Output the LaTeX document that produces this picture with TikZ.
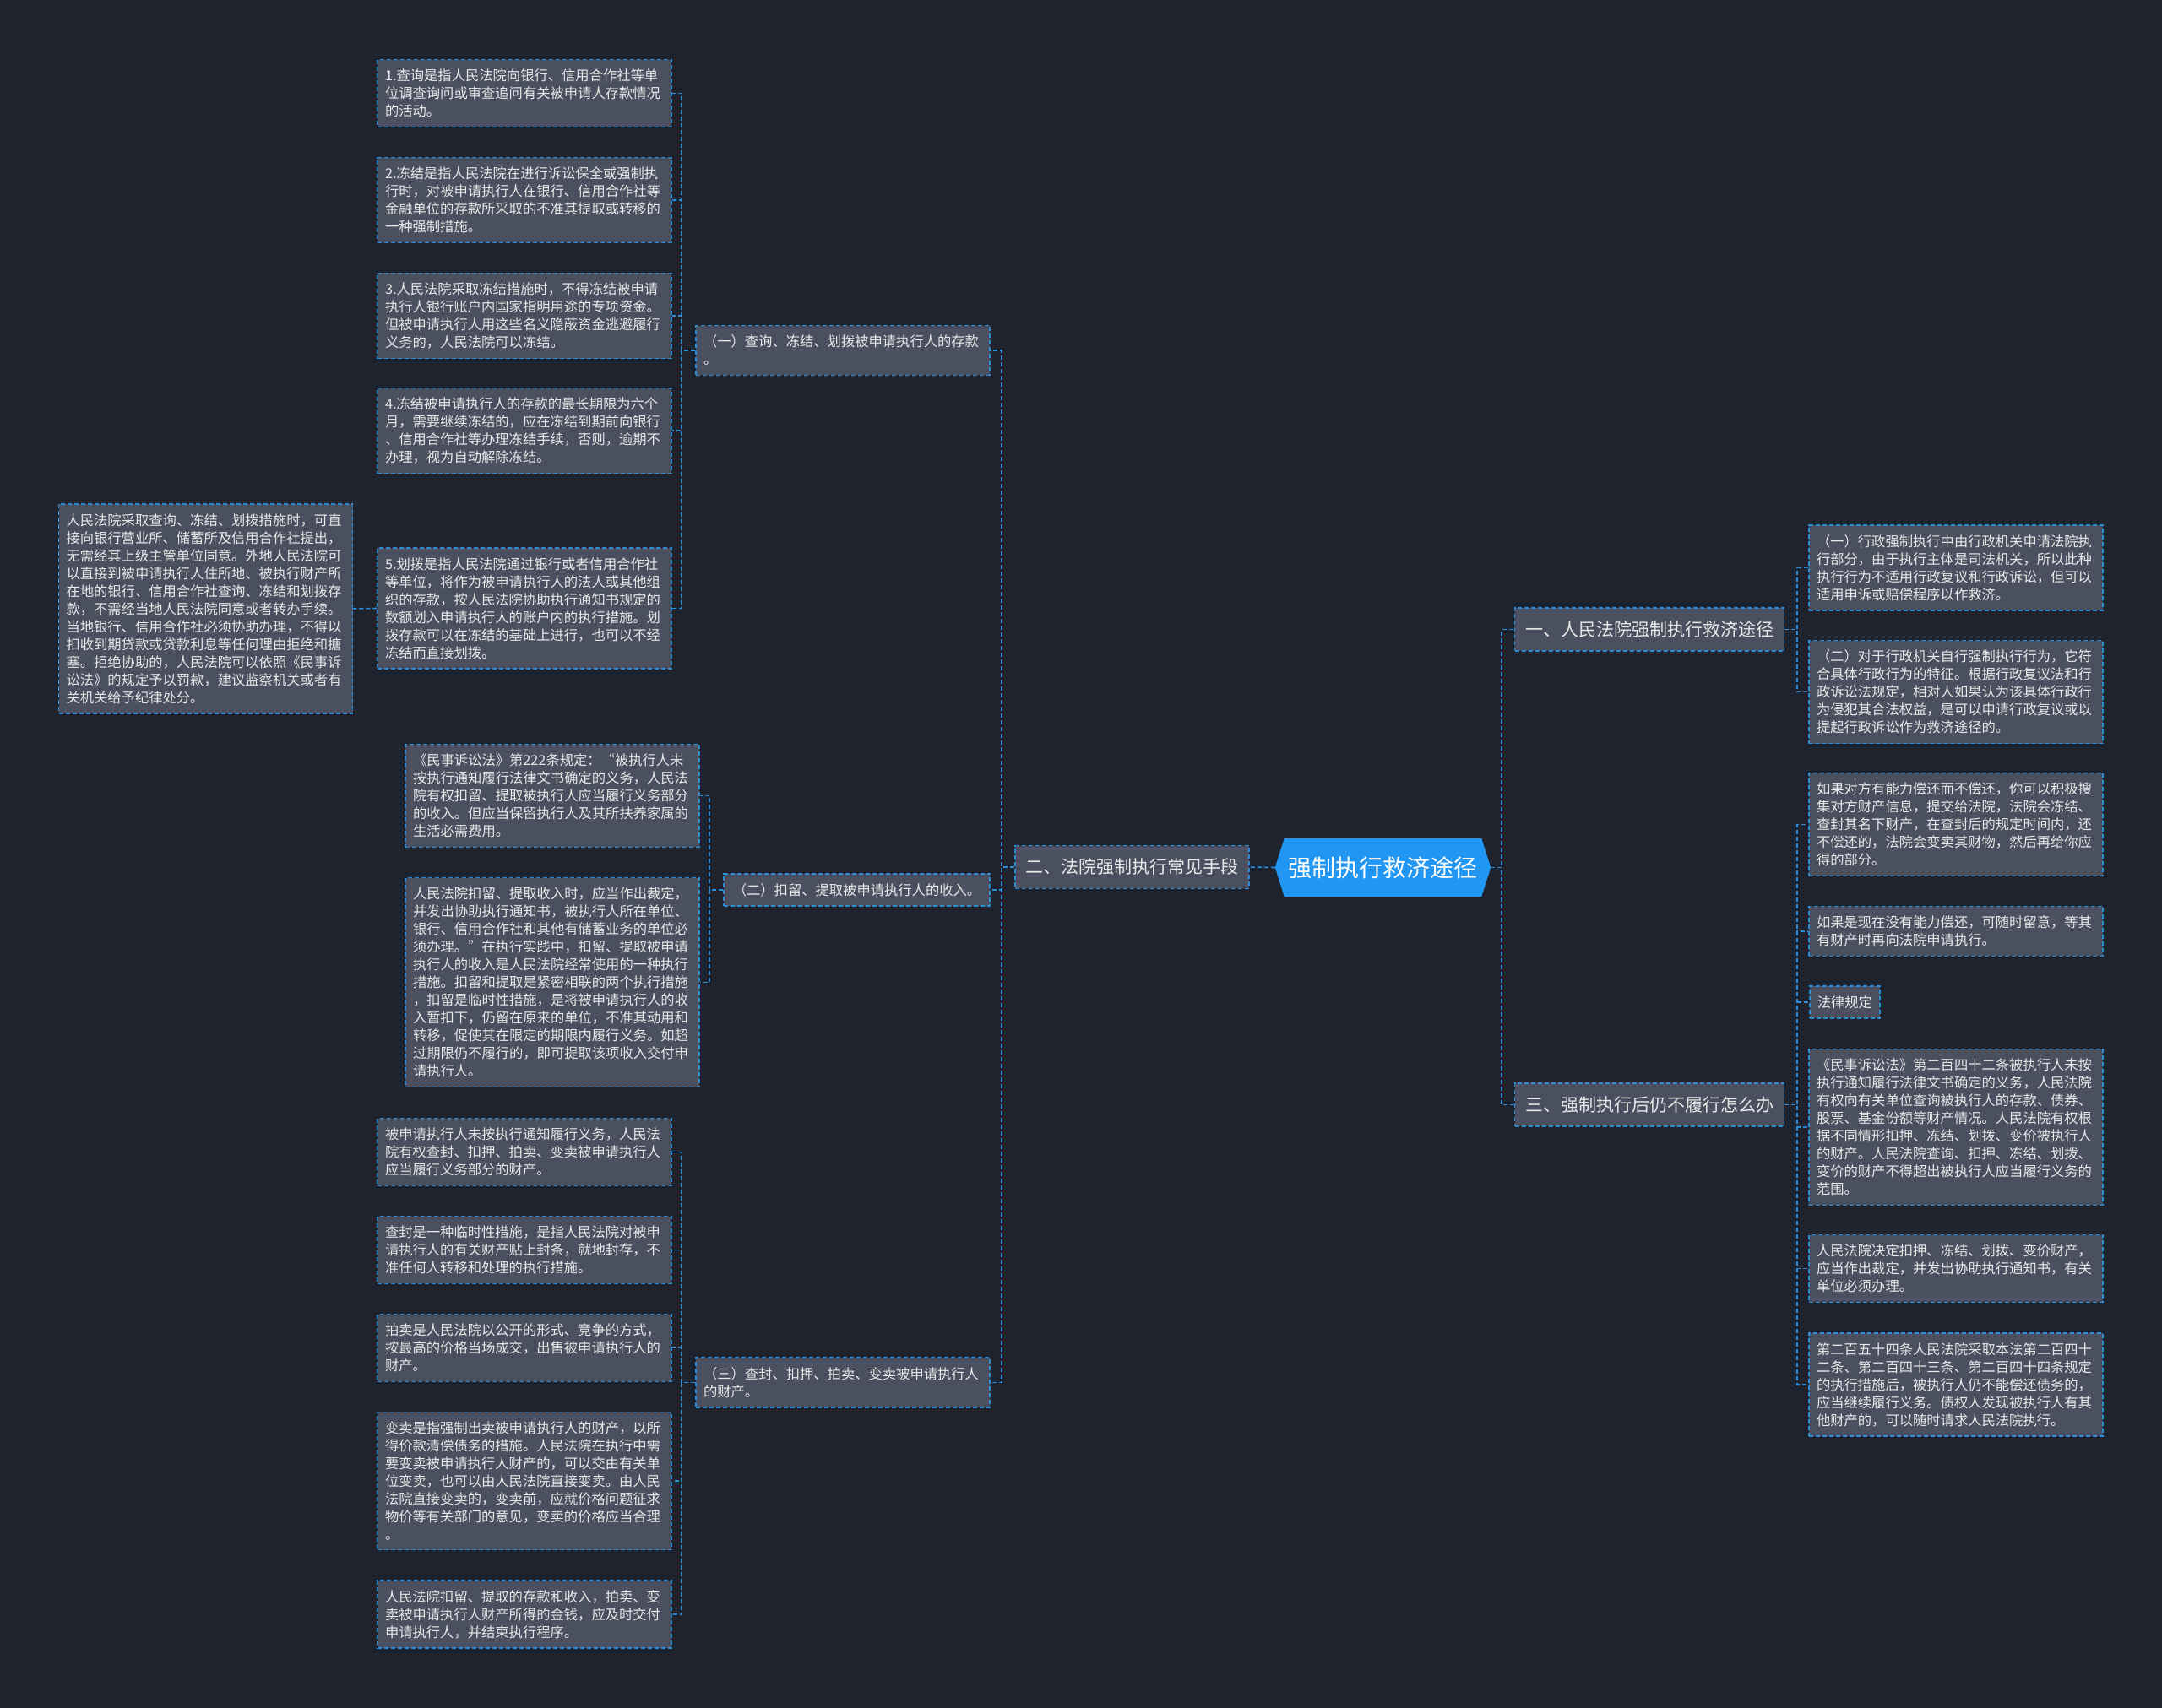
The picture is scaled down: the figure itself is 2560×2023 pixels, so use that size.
\documentclass[tikz,border=0pt]{standalone}
\usepackage{fontspec}
\newfontfamily\cjk{Noto Sans CJK SC}
\usetikzlibrary{calc}
\definecolor{bgcol}{RGB}{31,35,46}
\definecolor{nodefill}{RGB}{74,80,95}
\definecolor{edgecol}{RGB}{44,141,214}
\definecolor{txtcol}{RGB}{232,232,232}
\definecolor{rootfill}{RGB}{33,150,243}
\begin{document}
\begin{tikzpicture}[x=1pt,y=-1pt,
  box/.style={draw=edgecol, line width=1.5pt, dash pattern=on 5pt off 3pt,
    fill=nodefill, text=txtcol, font=\cjk\fontsize{16.3}{21}\selectfont,
    inner xsep=9pt, inner ysep=11.3pt, align=left},
  leaf/.style={box, text width=330pt},
  single/.style={box, inner xsep=11pt},
  topic/.style={box, font=\cjk\fontsize{21}{25}\selectfont, inner xsep=12.5pt, inner ysep=15.5pt},
  rootnode/.style={draw=none, text=white, font=\cjk\fontsize{28}{32}\selectfont,
    minimum width=255pt, minimum height=69pt, inner sep=0pt},
  conn/.style={draw=edgecol, line width=1.6pt, dash pattern=on 5pt off 3pt}]

\fill[bgcol] (0,0) rectangle (2560,2023);
\useasboundingbox (0,0) rectangle (2560,2023);

% root
\node[rootnode] (root) at (1637.5,1027.5) {\phantom{强制执行救济途径}};
\fill[rootfill] (root.west) -- ($(root.north west)+(11,0)$) -- ($(root.north east)+(-11,0)$)
  -- (root.east) -- ($(root.south east)+(-11,0)$) -- ($(root.south west)+(11,0)$) -- cycle;
\node[rootnode] at (root.center) {强制执行救济途径};

% level 1
\node[topic] (L1a) at (1953,745.5) {一、人民法院强制执行救济途径};
\node[topic] (L1b) at (1340.5,1027) {二、法院强制执行常见手段};
\node[topic] (L1c) at (1953,1308.5) {三、强制执行后仍不履行怎么办};

% level 2 (left)
\node[leaf] (L2a) at (998,415) {（一）查询、冻结、划拨被申请执行人的存款\\。};
\node[single] (L2b) at (1014.5,1054) {（二）扣留、提取被申请执行人的收入。};
\node[leaf] (L2c) at (998,1637.5) {（三）查封、扣押、拍卖、变卖被申请执行人\\的财产。};

% children of (一)
\node[leaf] (T1) at (621,110.5) {1.查询是指人民法院向银行、信用合作社等单\\位调查询问或审查追问有关被申请人存款情况\\的活动。};
\node[leaf] (T2) at (621,237) {2.冻结是指人民法院在进行诉讼保全或强制执\\行时，对被申请执行人在银行、信用合作社等\\金融单位的存款所采取的不准其提取或转移的\\一种强制措施。};
\node[leaf] (T3) at (621,374) {3.人民法院采取冻结措施时，不得冻结被申请\\执行人银行账户内国家指明用途的专项资金。\\但被申请执行人用这些名义隐蔽资金逃避履行\\义务的，人民法院可以冻结。};
\node[leaf] (T4) at (621,510) {4.冻结被申请执行人的存款的最长期限为六个\\月，需要继续冻结的，应在冻结到期前向银行\\、信用合作社等办理冻结手续，否则，逾期不\\办理，视为自动解除冻结。};
\node[leaf] (T5) at (621,720.5) {5.划拨是指人民法院通过银行或者信用合作社\\等单位，将作为被申请执行人的法人或其他组\\织的存款，按人民法院协助执行通知书规定的\\数额划入申请执行人的账户内的执行措施。划\\拨存款可以在冻结的基础上进行，也可以不经\\冻结而直接划拨。};
\node[leaf] (FL) at (243.5,721) {人民法院采取查询、冻结、划拨措施时，可直\\接向银行营业所、储蓄所及信用合作社提出，\\无需经其上级主管单位同意。外地人民法院可\\以直接到被申请执行人住所地、被执行财产所\\在地的银行、信用合作社查询、冻结和划拨存\\款，不需经当地人民法院同意或者转办手续。\\当地银行、信用合作社必须协助办理，不得以\\扣收到期贷款或贷款利息等任何理由拒绝和搪\\塞。拒绝协助的，人民法院可以依照《民事诉\\讼法》的规定予以罚款，建议监察机关或者有\\关机关给予纪律处分。};

% children of (二)
\node[leaf] (M1) at (654,942.5) {《民事诉讼法》第222条规定：“被执行人未\\按执行通知履行法律文书确定的义务，人民法\\院有权扣留、提取被执行人应当履行义务部分\\的收入。但应当保留执行人及其所扶养家属的\\生活必需费用。};
\node[leaf] (M2) at (654,1163.5) {人民法院扣留、提取收入时，应当作出裁定，\\并发出协助执行通知书，被执行人所在单位、\\银行、信用合作社和其他有储蓄业务的单位必\\须办理。”在执行实践中，扣留、提取被申请\\执行人的收入是人民法院经常使用的一种执行\\措施。扣留和提取是紧密相联的两个执行措施\\，扣留是临时性措施，是将被申请执行人的收\\入暂扣下，仍留在原来的单位，不准其动用和\\转移，促使其在限定的期限内履行义务。如超\\过期限仍不履行的，即可提取该项收入交付申\\请执行人。};

% children of (三)
\node[leaf] (B1) at (621,1364.5) {被申请执行人未按执行通知履行义务，人民法\\院有权查封、扣押、拍卖、变卖被申请执行人\\应当履行义务部分的财产。};
\node[leaf] (B2) at (621,1480.5) {查封是一种临时性措施，是指人民法院对被申\\请执行人的有关财产贴上封条，就地封存，不\\准任何人转移和处理的执行措施。};
\node[leaf] (B3) at (621,1596.5) {拍卖是人民法院以公开的形式、竞争的方式，\\按最高的价格当场成交，出售被申请执行人的\\财产。};
\node[leaf] (B4) at (621,1754) {变卖是指强制出卖被申请执行人的财产，以所\\得价款清偿债务的措施。人民法院在执行中需\\要变卖被申请执行人财产的，可以交由有关单\\位变卖，也可以由人民法院直接变卖。由人民\\法院直接变卖的，变卖前，应就价格问题征求\\物价等有关部门的意见，变卖的价格应当合理\\。};
\node[leaf] (B5) at (621,1912) {人民法院扣留、提取的存款和收入，拍卖、变\\卖被申请执行人财产所得的金钱，应及时交付\\申请执行人，并结束执行程序。};

% right side
\node[leaf] (R1) at (2316,672.5) {（一）行政强制执行中由行政机关申请法院执\\行部分，由于执行主体是司法机关，所以此种\\执行行为不适用行政复议和行政诉讼，但可以\\适用申诉或赔偿程序以作救济。};
\node[leaf] (R2) at (2316,819.5) {（二）对于行政机关自行强制执行行为，它符\\合具体行政行为的特征。根据行政复议法和行\\政诉讼法规定，相对人如果认为该具体行政行\\为侵犯其合法权益，是可以申请行政复议或以\\提起行政诉讼作为救济途径的。};
\node[leaf] (R3) at (2316,976.5) {如果对方有能力偿还而不偿还，你可以积极搜\\集对方财产信息，提交给法院，法院会冻结、\\查封其名下财产，在查封后的规定时间内，还\\不偿还的，法院会变卖其财物，然后再给你应\\得的部分。};
\node[leaf] (R4) at (2316,1103) {如果是现在没有能力偿还，可随时留意，等其\\有财产时再向法院申请执行。};
\node[single, inner xsep=9pt, anchor=west] (R5) at (2142,1187) {法律规定};
\node[leaf] (R6) at (2316,1335) {《民事诉讼法》第二百四十二条被执行人未按\\执行通知履行法律文书确定的义务，人民法院\\有权向有关单位查询被执行人的存款、债券、\\股票、基金份额等财产情况。人民法院有权根\\据不同情形扣押、冻结、划拨、变价被执行人\\的财产。人民法院查询、扣押、冻结、划拨、\\变价的财产不得超出被执行人应当履行义务的\\范围。};
\node[leaf] (R7) at (2316,1502.5) {人民法院决定扣押、冻结、划拨、变价财产，\\应当作出裁定，并发出协助执行通知书，有关\\单位必须办理。};
\node[leaf] (R8) at (2316,1640) {第二百五十四条人民法院采取本法第二百四十\\二条、第二百四十三条、第二百四十四条规定\\的执行措施后，被执行人仍不能偿还债务的，\\应当继续履行义务。债权人发现被执行人有其\\他财产的，可以随时请求人民法院执行。};

% connectors
\draw[conn] (root.west) -- (L1b.east);
\foreach \c in {L1a,L1c} \draw[conn] (root.east) -- ++(13,0) |- (\c.west);
\foreach \c in {R1,R2} \draw[conn] (L1a.east) -- ++(15,0) |- (\c.west);
\foreach \c in {R3,R4,R5,R6,R7,R8} \draw[conn] (L1c.east) -- ++(15,0) |- (\c.west);
\foreach \c in {L2a,L2b,L2c} \draw[conn] (L1b.west) -- ++(-15,0) |- (\c.east);
\foreach \c in {T1,T2,T3,T4,T5} \draw[conn] (L2a.west) -- ++(-16,0) |- (\c.east);
\draw[conn] (T5.west) -- (FL.east);
\foreach \c in {M1,M2} \draw[conn] (L2b.west) -- ++(-16,0) |- (\c.east);
\foreach \c in {B1,B2,B3,B4,B5} \draw[conn] (L2c.west) -- ++(-16,0) |- (\c.east);
\end{tikzpicture}
\end{document}
